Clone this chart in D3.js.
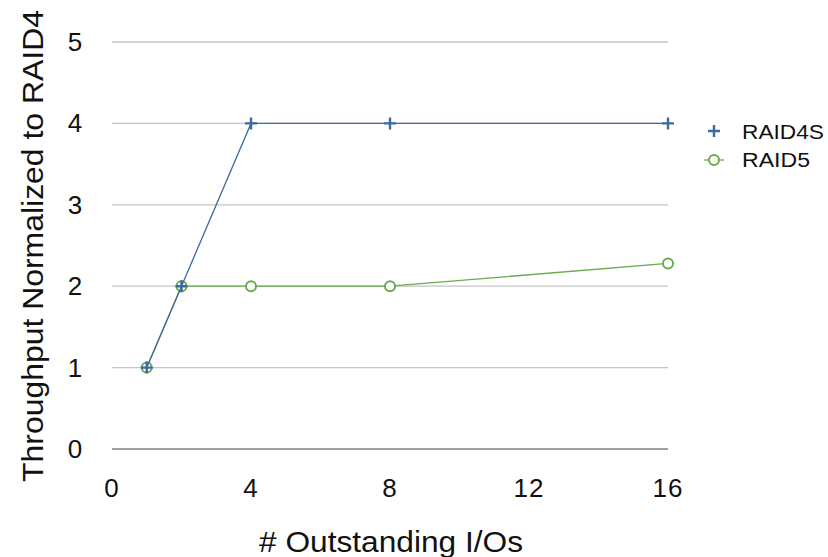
<!DOCTYPE html>
<html>
<head>
<meta charset="utf-8">
<script src="https://cdn.jsdelivr.net/npm/d3@7"></script>
<style>
  body { margin: 0; background: #fff; }
  svg { font-family: "Liberation Sans", Helvetica, Arial, sans-serif; }
</style>
</head>
<body>
<svg id="chart" width="828" height="557"></svg>
<script>
const ios = [1, 2, 4, 8, 16];
const raid4s = [1, 2, 4, 4, 4];
const raid5 = [1, 2, 2, 2, 2.28];
const xTicks = [0, 4, 8, 12, 16];
const yTicks = [0, 1, 2, 3, 4, 5];

const blue = "#3d6aa0";
const green = "#6aaa4e";

const svg = d3.select("#chart");

const x = d3.scaleLinear().domain([0, 16]).range([112, 668]);
const y = d3.scaleLinear().domain([0, 5]).range([449, 42]);

// gridlines
svg.append("g")
    .selectAll("line")
    .data(yTicks)
    .enter().append("line")
    .attr("x1", x(0))
    .attr("x2", x(16))
    .attr("y1", d => y(d))
    .attr("y2", d => y(d))
    .attr("stroke", d => d === 0 ? "#444" : "#c4c4c4")
    .attr("stroke-width", d => d === 0 ? 1.2 : 1.3);

// y tick labels
svg.append("g")
    .selectAll("text")
    .data(yTicks)
    .enter().append("text")
    .attr("x", 75)
    .attr("y", d => y(d) + 9)
    .attr("text-anchor", "middle")
    .attr("font-size", "26px")
    .attr("fill", "#111")
    .text(d => d);

// x tick labels
svg.append("g")
    .selectAll("text")
    .data(xTicks)
    .enter().append("text")
    .attr("x", d => x(d))
    .attr("y", 497)
    .attr("text-anchor", "middle")
    .attr("font-size", "26px")
    .attr("letter-spacing", "1px")
    .attr("fill", "#111")
    .text(d => d);

// axis titles
svg.append("text")
    .attr("x", 391 - 132)
    .attr("y", 552)
    .attr("font-size", "29px")
    .attr("textLength", 264)
    .attr("lengthAdjust", "spacingAndGlyphs")
    .attr("fill", "#111")
    .text("# Outstanding I/Os");

svg.append("text")
    .attr("transform", "translate(43,482) rotate(-90)")
    .attr("font-size", "29px")
    .attr("textLength", 472)
    .attr("lengthAdjust", "spacingAndGlyphs")
    .attr("fill", "#111")
    .text("Throughput Normalized to RAID4");

const line = d3.line()
    .x((d, i) => x(ios[i]))
    .y(d => y(d));

// RAID5
svg.append("path")
    .datum(raid5)
    .attr("d", line)
    .attr("fill", "none")
    .attr("stroke", green)
    .attr("stroke-width", 1.3);

svg.append("g")
    .selectAll("circle")
    .data(raid5)
    .enter().append("circle")
    .attr("cx", (d, i) => x(ios[i]))
    .attr("cy", d => y(d))
    .attr("r", 5)
    .attr("fill", "#fff")
    .attr("stroke", green)
    .attr("stroke-width", 2);

// RAID4S
svg.append("path")
    .datum(raid4s)
    .attr("d", line)
    .attr("fill", "none")
    .attr("stroke", blue)
    .attr("stroke-width", 1.3);

svg.append("g")
    .selectAll("path")
    .data(raid4s)
    .enter().append("path")
    .attr("transform", (d, i) => `translate(${x(ios[i])},${y(d)})`)
    .attr("d", "M-6,0H6M0,-6V6")
    .attr("stroke", blue)
    .attr("stroke-width", 2.4)
    .attr("fill", "none");

// legend
const legend = svg.append("g");
legend.append("path")
    .attr("d", "M708,131H720M714,125V137")
    .attr("stroke", blue)
    .attr("stroke-width", 2.4);
legend.append("text")
    .attr("x", 742)
    .attr("y", 139)
    .attr("font-size", "20px")
    .attr("textLength", 82)
    .attr("lengthAdjust", "spacingAndGlyphs")
    .attr("fill", "#111")
    .text("RAID4S");

legend.append("line")
    .attr("x1", 704).attr("x2", 724)
    .attr("y1", 160).attr("y2", 160)
    .attr("stroke", green)
    .attr("stroke-width", 1.3);
legend.append("circle")
    .attr("cx", 714).attr("cy", 160).attr("r", 5)
    .attr("fill", "#fff")
    .attr("stroke", green)
    .attr("stroke-width", 2);
legend.append("text")
    .attr("x", 742)
    .attr("y", 167)
    .attr("font-size", "20px")
    .attr("textLength", 68)
    .attr("lengthAdjust", "spacingAndGlyphs")
    .attr("fill", "#111")
    .text("RAID5");
</script>
</body>
</html>
